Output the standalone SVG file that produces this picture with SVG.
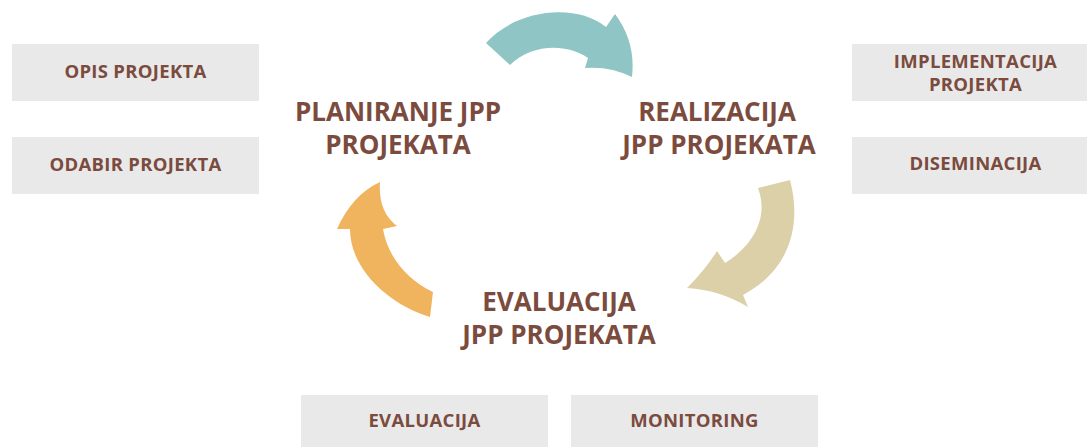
<svg xmlns="http://www.w3.org/2000/svg" width="1087" height="447" viewBox="0 0 1087 447">
<style>
.box{fill:#e9e9e9}
.lbl{font-family:"Open Sans","Liberation Sans",sans-serif;font-weight:700;font-size:18.5px;letter-spacing:0.3px;fill:#7b4b3e;text-anchor:middle}
.ttl{font-family:"Open Sans","Liberation Sans",sans-serif;font-weight:700;font-size:26px;fill:#7b4b3e;text-anchor:middle}
</style>
<rect width="1087" height="447" fill="#ffffff"/>
<g id="connectors">
<path id="arrow-teal" fill="#8fc5c4" d="M486,43 C515,10 575,2 606,27 L615,14 Q636,42 632,77 Q610,66 585,68 L588,58 C565,42 530,45 510,65 Z"/>
<path id="arrow-tan" fill="#dbd0a7" d="M790,180 C802,225 790,270 743,295 L748,307 Q720,290 687,288 Q705,270 717,251 L725,263 C750,248 770,220 758,188 Z"/>
<path id="arrow-orange" fill="#f1b45e" d="M380,182 Q378,212 397,226 L383,229 C388,258 408,280 433,292 L430,317 C390,305 350,270 350,229 L337,229 Q352,195 380,182 Z"/>
</g>
<g id="planiranje"><text class="ttl" x="398" y="121">PLANIRANJE JPP</text><text class="ttl" x="398" y="154">PROJEKATA</text></g>
<g id="realizacija"><text class="ttl" x="717" y="121">REALIZACIJA</text><text class="ttl" x="719" y="154">JPP PROJEKATA</text></g>
<g id="evaluacija-jpp"><text class="ttl" x="559" y="311">EVALUACIJA</text><text class="ttl" x="559" y="344">JPP PROJEKATA</text></g>
<g id="opis"><rect class="box" x="12" y="44" width="247" height="57"/><text class="lbl" x="135.5" y="78">OPIS PROJEKTA</text></g>
<g id="odabir"><rect class="box" x="12" y="137" width="247" height="57"/><text class="lbl" x="135.5" y="171">ODABIR PROJEKTA</text></g>
<g id="implementacija"><rect class="box" x="852" y="44" width="247" height="57"/><text class="lbl" x="975.5" y="68">IMPLEMENTACIJA</text><text class="lbl" x="975.5" y="91">PROJEKTA</text></g>
<g id="diseminacija"><rect class="box" x="852" y="137" width="247" height="57"/><text class="lbl" x="975.5" y="170">DISEMINACIJA</text></g>
<g id="evaluacija"><rect class="box" x="301" y="395" width="247" height="57"/><text class="lbl" x="424.5" y="427">EVALUACIJA</text></g>
<g id="monitoring"><rect class="box" x="571" y="395" width="247" height="57"/><text class="lbl" x="694.5" y="427">MONITORING</text></g>
</svg>
